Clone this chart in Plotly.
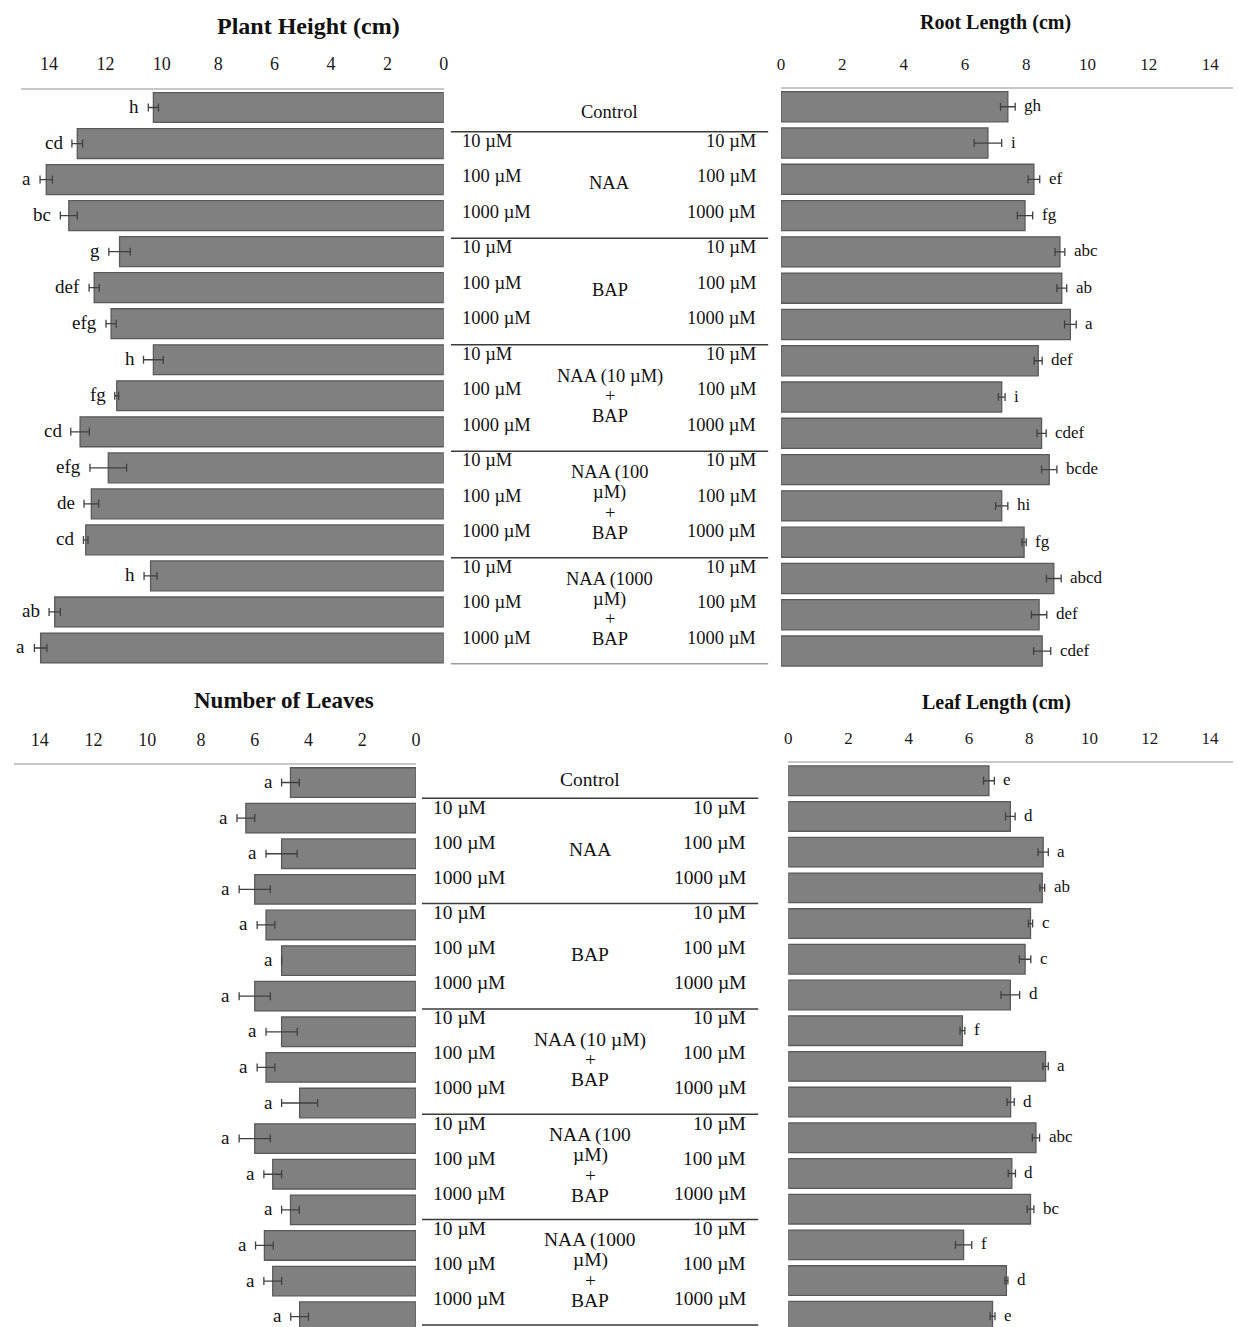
import plotly.graph_objects as go

# ---------------- data ----------------
treatments = [
    "Control",
    "NAA 10 µM", "NAA 100 µM", "NAA 1000 µM",
    "BAP 10 µM", "BAP 100 µM", "BAP 1000 µM",
    "NAA(10)+BAP 10 µM", "NAA(10)+BAP 100 µM", "NAA(10)+BAP 1000 µM",
    "NAA(100)+BAP 10 µM", "NAA(100)+BAP 100 µM", "NAA(100)+BAP 1000 µM",
    "NAA(1000)+BAP 10 µM", "NAA(1000)+BAP 100 µM", "NAA(1000)+BAP 1000 µM",
]

plant_height = [10.3, 13.0, 14.1, 13.3, 11.5, 12.4, 11.8, 10.3, 11.6, 12.9, 11.9, 12.5, 12.7, 10.4, 13.8, 14.3]
plant_height_err = [0.18, 0.19, 0.22, 0.30, 0.38, 0.18, 0.18, 0.35, 0.07, 0.33, 0.65, 0.26, 0.08, 0.23, 0.20, 0.22]
plant_height_letters = ["h", "cd", "a", "bc", "g", "def", "efg", "h", "fg", "cd", "efg", "de", "cd", "h", "ab", "a"]

root_length = [7.40, 6.75, 8.25, 7.96, 9.10, 9.16, 9.44, 8.39, 7.20, 8.50, 8.75, 7.20, 7.93, 8.90, 8.42, 8.52]
root_length_err = [0.24, 0.45, 0.19, 0.25, 0.16, 0.16, 0.19, 0.13, 0.11, 0.15, 0.25, 0.20, 0.07, 0.24, 0.25, 0.28]
root_length_letters = ["gh", "i", "ef", "fg", "abc", "ab", "a", "def", "i", "cdef", "bcde", "hi", "fg", "abcd", "def", "cdef"]

num_leaves = [4.67, 6.33, 5.0, 6.0, 5.58, 5.0, 6.0, 5.0, 5.58, 4.33, 6.0, 5.33, 4.67, 5.64, 5.33, 4.33]
num_leaves_err = [0.33, 0.33, 0.58, 0.58, 0.33, 0.0, 0.58, 0.58, 0.33, 0.67, 0.58, 0.33, 0.33, 0.33, 0.33, 0.33]
num_leaves_letters = ["a"] * 16

leaf_length = [6.66, 7.37, 8.46, 8.43, 8.04, 7.86, 7.37, 5.78, 8.54, 7.38, 8.22, 7.42, 8.04, 5.82, 7.24, 6.78]
leaf_length_err = [0.18, 0.16, 0.17, 0.08, 0.07, 0.19, 0.31, 0.08, 0.09, 0.12, 0.12, 0.12, 0.11, 0.27, 0.05, 0.08]
leaf_length_letters = ["e", "d", "a", "ab", "c", "c", "d", "f", "a", "d", "abc", "d", "bc", "f", "d", "e"]

x_ticks = [0, 2, 4, 6, 8, 10, 12, 14]

panel_titles = ["Plant Height (cm)", "Root Length (cm)", "Number of Leaves", "Leaf Length (cm)"]

group_names = ["Control", "NAA", "BAP", "NAA (10 µM)|+|BAP", "NAA (100|µM)|+|BAP", "NAA (1000|µM)|+|BAP"]
group_sizes = [1, 3, 3, 3, 3, 3]
concentrations = ["10 µM", "100 µM", "1000 µM"]

# ---------------- layout helpers ----------------
W, H = 1238, 1327
SERIF = "Liberation Serif, Times New Roman, serif"


def px(x):
    return x / W


def py(y):
    return 1 - y / H


BAR_FILL = "#808080"
BAR_LINE = "#595959"
ERR_COLOR = "#404040"

fig = go.Figure()

panels = [
    # values, err, letters, xaxis, yaxis, side(-1 left / +1 right)
    (plant_height, plant_height_err, plant_height_letters, "x", "y", -1),
    (root_length, root_length_err, root_length_letters, "x2", "y2", 1),
    (num_leaves, num_leaves_err, num_leaves_letters, "x3", "y3", -1),
    (leaf_length, leaf_length_err, leaf_length_letters, "x4", "y4", 1),
]

annotations = []
for vals, errs, letters, xa, ya, side in panels:
    fig.add_trace(go.Bar(
        x=vals, y=treatments, orientation="h",
        marker=dict(color=BAR_FILL, line=dict(color=BAR_LINE, width=1.3)),
        error_x=dict(type="data", array=errs, visible=True, color=ERR_COLOR,
                     thickness=1.3, width=4),
        xaxis=xa, yaxis=ya, showlegend=False,
    ))
    for v, e, lab, t in zip(vals, errs, letters, treatments):
        annotations.append(dict(
            x=v + e, y=t, xref=xa, yref=ya, text=lab, showarrow=False,
            xanchor="right" if side < 0 else "left",
            xshift=-7 if side < 0 else 7, yshift=1,
            font=dict(family=SERIF, size=19 if side < 0 else 17, color="#111111"),
        ))

# invisible traces to create the table coordinate systems
for xa, ya in (("x5", "y5"), ("x6", "y6")):
    fig.add_trace(go.Scatter(x=[0.5], y=[0], mode="markers", marker=dict(opacity=0),
                             xaxis=xa, yaxis=ya, showlegend=False, hoverinfo="skip"))


def xaxis_cfg(dom, rng, tick_size, anchor):
    return dict(domain=dom, range=rng, anchor=anchor, side="top", showline=True,
                linecolor="#c8c8c8", linewidth=2, ticks="", tickvals=x_ticks,
                tickfont=dict(family=SERIF, size=tick_size, color="#1a1a1a"),
                showgrid=False, zeroline=False, ticklabelstandoff=10, fixedrange=True)


def yaxis_cfg(dom, rng, anchor):
    return dict(domain=dom, range=rng, anchor=anchor, visible=False, showgrid=False,
                zeroline=False, type="category", categoryorder="array",
                categoryarray=treatments, fixedrange=True)


shapes = []

# table panels (top: x5/y5, bottom: x6/y6)
tables = [
    dict(xa="x5", ya="y5", size=18.5),
    dict(xa="x6", ya="y6", size=19.5),
]
for tb in tables:
    start = 0
    for gname, gsize in zip(group_names, group_sizes):
        center = start + (gsize - 1) / 2
        lines = gname.split("|")
        n = len(lines)
        for k, ln in enumerate(lines):
            annotations.append(dict(
                x=0.5, y=center - 0.05, xref=tb["xa"], yref=tb["ya"], text=ln,
                showarrow=False, xanchor="center", yanchor="middle",
                yshift=-(k - (n - 1) / 2) * 20,
                font=dict(family=SERIF, size=tb["size"], color="#111111"),
            ))
        if gsize > 1:
            for k in range(gsize):
                r = start + k - 0.25
                annotations.append(dict(
                    x=0, y=r, xref=tb["xa"], yref=tb["ya"], text=concentrations[k],
                    showarrow=False, xanchor="left", xshift=9,
                    font=dict(family=SERIF, size=tb["size"], color="#111111")))
                annotations.append(dict(
                    x=1, y=r, xref=tb["xa"], yref=tb["ya"], text=concentrations[k],
                    showarrow=False, xanchor="right", xshift=-10,
                    font=dict(family=SERIF, size=tb["size"], color="#111111")))
        start += gsize
        shapes.append(dict(type="line", xref=tb["xa"], yref=tb["ya"], x0=0, x1=1,
                           y0=start - 0.5, y1=start - 0.5,
                           line=dict(color="#3a3a3a", width=1.5)))

# panel titles
title_pos = [(307, 26, 24), (999, 23, 20), (282, 700, 23), (1000, 702, 20)]
for title, (tx, ty, ts) in zip(panel_titles, title_pos):
    annotations.append(dict(x=px(tx), y=py(ty), xref="paper", yref="paper",
                            text="<b>" + title + "</b>", showarrow=False,
                            xanchor="center", yanchor="middle",
                            font=dict(family=SERIF, size=ts, color="#111111")))

fig.update_layout(
    width=W, height=H,
    margin=dict(l=0, r=0, t=0, b=0),
    paper_bgcolor="white", plot_bgcolor="white",
    bargap=0.17,
    xaxis=xaxis_cfg([px(17), px(443)], [15, 0], 18, "y"),
    yaxis=yaxis_cfg([py(666), py(89.5)], [15.5, -0.5], "x"),
    xaxis2=xaxis_cfg([px(782.7), 1], [0, 14.745], 17, "y2"),
    yaxis2=yaxis_cfg([py(669.2), py(88.6)], [15.5, -0.5], "x2"),
    xaxis3=xaxis_cfg([px(10), px(415)], [14.96, 0], 18, "y3"),
    yaxis3=yaxis_cfg([0, py(764.7)], [15.29, -0.5], "x3"),
    xaxis4=xaxis_cfg([px(790), 1], [0, 14.76], 17, "y4"),
    yaxis4=yaxis_cfg([0, py(762.9)], [15.3, -0.5], "x4"),
    xaxis5=dict(domain=[px(450), px(770)], range=[0, 1], visible=False, anchor="y5", fixedrange=True),
    yaxis5=dict(domain=[py(664.2), py(96.2)], range=[15.5, -0.5], visible=False, anchor="x5", fixedrange=True),
    xaxis6=dict(domain=[px(421), px(760)], range=[0, 1], visible=False, anchor="y6", fixedrange=True),
    yaxis6=dict(domain=[0, py(763.2)], range=[15.56, -0.5], visible=False, anchor="x6", fixedrange=True),
    annotations=annotations,
    shapes=shapes,
)

fig.write_html(
    "out.html",
    config={"displayModeBar": False},
    post_script="document.body.style.margin='0';document.body.style.padding='0';"
                "document.body.style.overflow='hidden';",
)
